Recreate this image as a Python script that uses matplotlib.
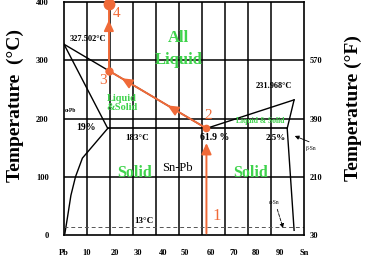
import matplotlib
matplotlib.use("Agg")
import matplotlib.pyplot as plt

# ---------------- data ----------------
liquidus_x = [0, 61.9, 100]
liquidus_T = [327.5, 183, 232]
solidus_left_x = [0, 19]
solidus_left_T = [327.5, 183]
solvus_left_x = [19, 8, 5, 3, 1.5, 0.4]
solvus_left_T = [183, 132, 100, 68, 30, 3]
solidus_right_x = [100, 97.0]
solidus_right_T = [232, 183]
solvus_right_x = [97.0, 100]
solvus_right_T = [183, 8]
eutectic_x = [19, 97.0]
eutectic_T = [183, 183]
alpha_sn_T = 13

path_x = [61.9, 61.9, 19.5, 19.5]
path_T = [3, 183, 282, 397]
arrow1_tip_T = 158
arrow23_x = [45, 25]
arrow4_tip_T = 369

xgrid = [10, 20, 30, 40, 50, 60, 70, 80, 90]
ygrid = [100, 200, 300]
xtick_labels = ['Pb', '10', '20', '30', '40', '50', '60', '70', '80', '90', 'Sn']
xtick_pos = [0, 10, 22.2, 32.3, 43.1, 52.3, 64, 73.7, 83.4, 93.8, 104.3]
ytick_C = [0, 100, 200, 300, 400]
ytick_F_pos = [0, 100, 200, 300]
ytick_F_labels = ['30', '210', '390', '570']

orange = '#F06A38'
green = '#3FD34C'
serif = 'Liberation Serif'

fig = plt.figure(figsize=(3.7, 2.56), dpi=100)
ax = fig.add_axes([64/370, 1-235/256, 240/370, 233/256])
ax.set_xlim(0, 100.6)
ax.set_ylim(0, 400)

for s in ax.spines.values():
    s.set_color('black'); s.set_linewidth(1.2)

for gx in xgrid:
    ax.axvline(gx, color='black', lw=1.1, zorder=1)
for gy in ygrid:
    ax.axhline(gy, color='black', lw=1.1, zorder=1)

lk = dict(color='black', lw=1.0, zorder=2)
ax.plot(liquidus_x, liquidus_T, **lk)
ax.plot(solidus_left_x, solidus_left_T, **lk)
ax.plot(solvus_left_x, solvus_left_T, **lk)
ax.plot(solidus_right_x, solidus_right_T, **lk)
ax.plot(solvus_right_x, solvus_right_T, **lk)
ax.plot(eutectic_x, eutectic_T, color='black', lw=1.2, zorder=2)
ax.axhline(alpha_sn_T, color='#555555', lw=0.7, ls=(0, (4, 3)), zorder=2)

# orange path
head = '-|>,head_length=0.55,head_width=0.25'
ap = dict(arrowstyle=head, color=orange, lw=1.4, mutation_scale=12, shrinkA=0, shrinkB=0)
ax.annotate('', xy=(path_x[0], arrow1_tip_T), xytext=(path_x[0], path_T[0]), arrowprops=ap, zorder=4)
ax.plot(path_x[1:3], path_T[1:3], color=orange, lw=1.4, zorder=4)
slope = (path_T[2]-path_T[1])/(path_x[2]-path_x[1])
for axx in arrow23_x:
    tail = (axx+3, path_T[1]+slope*(axx+3-path_x[1]))
    tip = (axx, path_T[1]+slope*(axx-path_x[1]))
    ax.annotate('', xy=tip, xytext=tail,
                arrowprops=dict(arrowstyle=head, color=orange, lw=1.2, mutation_scale=12,
                                shrinkA=0, shrinkB=0), zorder=4)
ax.plot(path_x[2:4], path_T[2:4], color=orange, lw=1.4, zorder=4, clip_on=False)
ax.annotate('', xy=(path_x[2], arrow4_tip_T), xytext=(path_x[2], arrow4_tip_T-15),
            arrowprops=dict(arrowstyle=head, color=orange, lw=1.2, mutation_scale=12,
                            shrinkA=0, shrinkB=0), zorder=4)
ax.plot([path_x[1]], [path_T[1]], 'o', color=orange, ms=4.5, zorder=5)
ax.plot([path_x[2]], [path_T[2]], 'o', color=orange, ms=5, zorder=5)
ax.plot([path_x[3]], [path_T[3]], 'o', color=orange, ms=7.5, zorder=5, clip_on=False)

tk = dict(color=orange, family=serif, fontsize=11, ha='center', va='center')
ax.text(23, 381, '4', **tk)
ax.text(16.8, 266, '3', **tk)
ax.text(62.5, 206, '2', **tk)
ax.text(66.2, 33, '1', color=orange, family=serif, fontsize=12, ha='center', va='center')

gk = dict(color=green, family=serif, fontweight='bold', ha='center', va='center')
ax.text(49.9, 338, 'All', fontsize=12, **gk)
ax.text(49.9, 300, 'Liquid', fontsize=12, **gk)
ax.text(25.2, 226, 'Liquid\n&Solid', fontsize=7.5, linespacing=1.0, **gk)
ax.text(85.1, 196, 'Liquid & Solid', fontsize=5.5, **gk)
ax.text(30.6, 106, 'Solid', fontsize=11.5, **gk)
ax.text(80.9, 106, 'Solid', fontsize=11.5, **gk)

bk = dict(color='black', family=serif, fontweight='bold', ha='center', va='center')
ax.text(49.5, 115, 'Sn-Pb', color='black', family=serif, fontsize=9, ha='center', va='center')
ax.text(31.9, 167, '183°C', fontsize=6.5, **bk)
ax.text(65.4, 167, '61.9 %', fontsize=7, **bk)
ax.text(91.8, 167, '2.5%', fontsize=6.5, **bk)
ax.text(9.6, 185, '19%', fontsize=7, **bk)
ax.text(0.3, 213, 'α-Pb', color='black', family=serif, fontweight='bold', fontsize=4, ha='left', va='center')
ax.text(10.5, 336, '327.502°C', fontsize=6, **bk)
ax.text(91.4, 256, '231.968°C', fontsize=6, **bk)
ax.text(34.8, 24, '13°C', fontsize=6.5, **bk)

ax.text(91.4, 55, 'α-Sn', color='black', family=serif, fontsize=4, ha='center', va='center')
ax.annotate('', xy=(95.2, 12), xytext=(92.7, 44),
            arrowprops=dict(arrowstyle='-|>', color='black', lw=0.6, ls='--', mutation_scale=6,
                            shrinkA=0, shrinkB=0))
ax.text(107.3, 149, 'β-Sn', color='black', family=serif, fontsize=4, ha='center', va='center', clip_on=False)
ax.annotate('', xy=(100.3, 170), xytext=(106.5, 160), annotation_clip=False,
            arrowprops=dict(arrowstyle='-|>', color='black', lw=0.6, mutation_scale=6,
                            shrinkA=0, shrinkB=0))

ax.set_xticks(xtick_pos)
ax.set_xticklabels(xtick_labels, family=serif, fontweight='bold', fontsize=6)
ax.set_yticks(ytick_C)
ax.set_yticklabels([str(v) for v in ytick_C], family=serif, fontweight='bold', fontsize=6)
ax.tick_params(length=0, pad=10)
ax.tick_params(axis='y', pad=11)

ax2 = ax.twinx()
ax2.set_ylim(0, 400)
ax2.set_yticks(ytick_F_pos)
ax2.set_yticklabels(ytick_F_labels, family=serif, fontweight='bold', fontsize=6)
ax2.tick_params(length=0, pad=4)
for s in ax2.spines.values():
    s.set_visible(False)

fig.text(15/370, 1-106/256, 'Temperature  (°C)', rotation=90, family=serif, fontweight='bold',
         fontsize=14, ha='center', va='center')
fig.text(353/370, 1-108/256, 'Temperature (°F)', rotation=90, family=serif, fontweight='bold',
         fontsize=14, ha='center', va='center')

fig.savefig('out.png', dpi=100)
